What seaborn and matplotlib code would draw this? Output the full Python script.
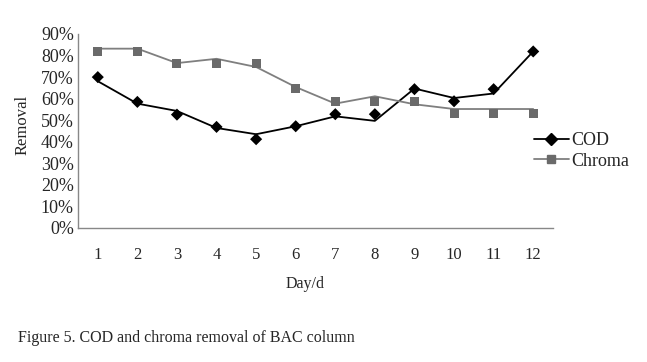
import matplotlib
matplotlib.use("Agg")
import matplotlib.pyplot as plt
from matplotlib.lines import Line2D
from matplotlib.ticker import FixedLocator, PercentFormatter
import seaborn as sns
import pandas as pd

days = [1, 2, 3, 4, 5, 6, 7, 8, 9, 10, 11, 12]
# measured points (markers)
cod_points = [70.0, 58.5, 52.6, 46.9, 41.2, 47.2, 52.8, 52.8, 64.4, 58.8, 64.4, 81.9]
chroma_points = [82.1, 82.1, 76.2, 76.2, 76.2, 64.7, 58.8, 58.8, 58.8, 52.9, 52.9, 52.9]
# drawn (smoothed) curves
cod_curve = [68.1, 57.7, 54.3, 46.4, 43.5, 47.2, 51.8, 49.7, 64.7, 60.3, 62.4, 81.9]
chroma_curve = [83.2, 83.2, 76.5, 78.5, 74.7, 65.4, 57.7, 61.1, 57.4, 55.2, 55.2, 55.2]
series_names = ["COD", "Chroma"]
y_ticks = [0, 10, 20, 30, 40, 50, 60, 70, 80, 90]

sns.set_style("white")
plt.rcParams["font.family"] = ["Liberation Serif", "DejaVu Serif"]

pts = pd.DataFrame({"day": days * 2,
                    "value": cod_points + chroma_points,
                    "series": [series_names[0]] * 12 + [series_names[1]] * 12})
crv = pd.DataFrame({"day": days * 2,
                    "value": cod_curve + chroma_curve,
                    "series": [series_names[0]] * 12 + [series_names[1]] * 12})

colors = {"COD": "#000000", "Chroma": "#7f7f7f"}
mcolors = {"COD": "#000000", "Chroma": "#6a6a6a"}

fig = plt.figure(figsize=(6.47, 3.62), dpi=100)
ax = fig.add_axes([78 / 647, 1 - 228 / 362, (553 - 78) / 647, (228 - 34) / 362])

sns.lineplot(data=crv, x="day", y="value", hue="series", palette=colors,
             ax=ax, legend=False, linewidth=1.3)
sns.scatterplot(data=pts[pts.series == "COD"], x="day", y="value", color=mcolors["COD"],
                marker="D", s=38, edgecolor="none", ax=ax, legend=False, zorder=3)
sns.scatterplot(data=pts[pts.series == "Chroma"], x="day", y="value", color=mcolors["Chroma"],
                marker="s", s=42, edgecolor="none", ax=ax, legend=False, zorder=3)

ax.set_xlim(0.5, 12.5)
ax.set_ylim(0, 90)
ax.set_yticks(y_ticks)
ax.yaxis.set_major_formatter(PercentFormatter(decimals=0))
ax.tick_params(axis="y", direction="in", length=5, color="#888888", labelsize=13, pad=3)

ax.set_xticks(days)
ax.set_xticklabels([str(d) for d in days])
ax.tick_params(axis="x", which="major", length=0, labelsize=12, pad=14)
ax.xaxis.set_minor_locator(FixedLocator([0.5 + k for k in range(13)]))
ax.tick_params(axis="x", which="minor", direction="in", length=6, color="#888888")

for s in ["top", "right"]:
    ax.spines[s].set_visible(False)
for s in ["left", "bottom"]:
    ax.spines[s].set_color("#888888")
    ax.spines[s].set_linewidth(1.0)

ax.set_xlabel("Day/d", fontsize=11.5)
ax.xaxis.set_label_coords((305 - 78) / 475, -0.25)
ax.set_ylabel("Removal", fontsize=12)
ax.yaxis.set_label_coords(-0.10, 0.53)

handles = [Line2D([], [], color=colors["COD"], marker="D", markersize=6, lw=1.3),
           Line2D([], [], color=colors["Chroma"], marker="s", markerfacecolor=mcolors["Chroma"],
                  markeredgecolor=mcolors["Chroma"], markersize=6, lw=1.3)]
fig.legend(handles, series_names, loc="center left", bbox_to_anchor=(527 / 647, 1 - 151 / 362),
           frameon=False, fontsize=13, handlelength=1.9, handletextpad=0.15,
           labelspacing=0.2, borderaxespad=0)

fig.text(18 / 647, 1 - 338 / 362, "Figure 5. COD and chroma removal of BAC column",
         fontsize=11.5, va="center", ha="left")

fig.savefig("out.png", dpi=100, facecolor="white")
